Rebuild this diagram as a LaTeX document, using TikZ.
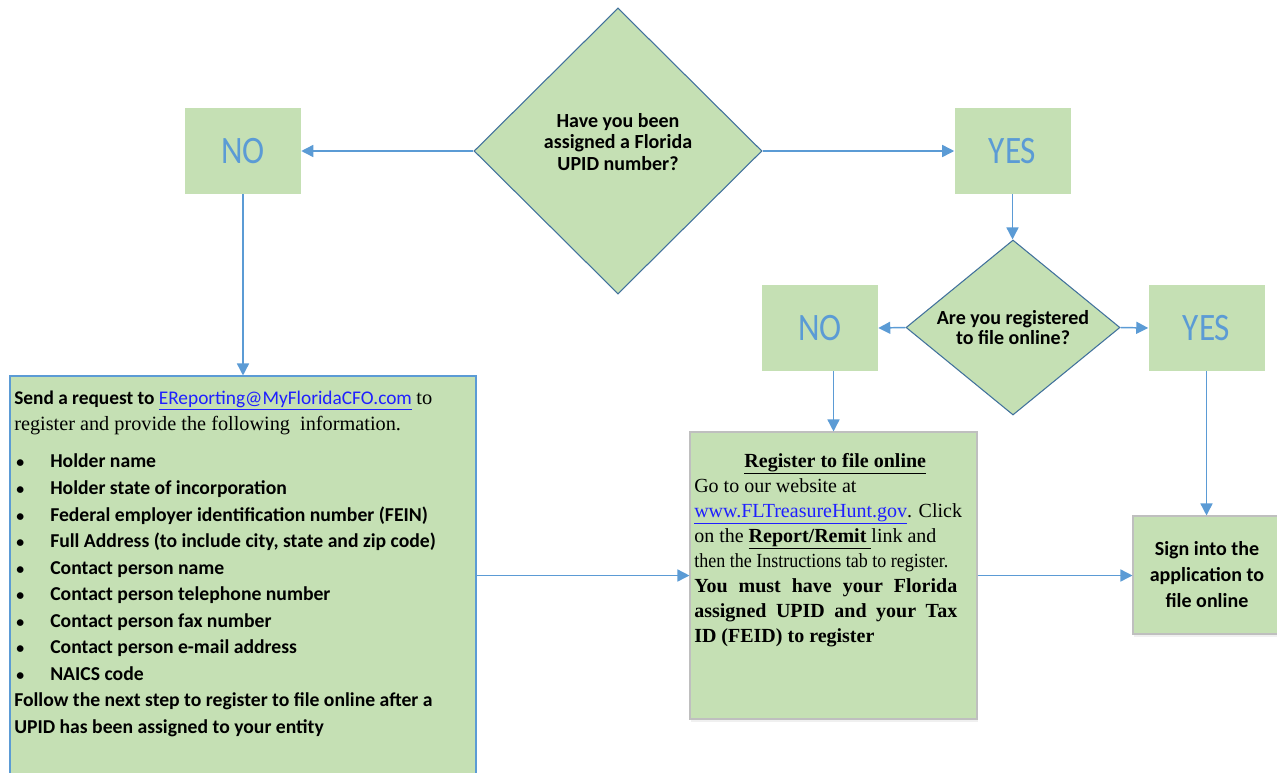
\documentclass[tikz,border=0pt]{standalone}
\usepackage{fontspec}
\setmainfont{Carlito}
\newfontfamily\timesfont{Liberation Serif}
\usepackage{graphicx}
\usetikzlibrary{arrows.meta,shapes.geometric,shadows}
\setlength{\parindent}{0pt}

\definecolor{boxgreen}{HTML}{C5E0B4}
\definecolor{flowblue}{HTML}{5B9BD5}
\definecolor{diaedge}{HTML}{41719C}
\definecolor{linkblue}{HTML}{1F1FFF}
\definecolor{panelgray}{HTML}{BFBFBF}

\tikzset{
  answer/.style={fill=boxgreen, minimum width=87pt, minimum height=64.5pt, inner sep=0pt,
    text=flowblue, font=\fontsize{26}{30}\selectfont},
  question/.style={diamond, draw=diaedge, line width=0.8pt, fill=boxgreen, inner sep=0pt,
    align=center, font=\bfseries\fontsize{15}{16}\selectfont},
  panel/.style={draw=panelgray, fill=boxgreen, line width=0.8pt, inner sep=0pt,
    drop shadow={opacity=0.12, shadow xshift=1pt, shadow yshift=-2pt}},
  flow/.style={draw=flowblue, line width=1.1pt, -{Triangle[length=9pt,width=9pt]}},
}

\newcommand\tallword[1]{\scalebox{0.96}[1.12]{#1}}
\newcommand\bitem[1]{\makebox[27pt][l]{\hspace{1.5pt}\scalebox{0.8}{\textbullet}}#1}
\newcommand\squeeze[2]{\resizebox{#1}{\height}{#2}}
\newcommand\fullline[1]{\makebox[197.25pt][s]{#1}}

\begin{document}
\begin{tikzpicture}[x=0.75pt,y=0.75pt,yscale=-1,xscale=1]
\useasboundingbox (0,0) rectangle (1277,772);

% Questions
\node[question, minimum width=216pt, minimum height=214.5pt, text depth=14pt] (upid) at (618,151) {Have you been\\assigned a Florida\\ UPID number?};
\node[question, aspect=1.22, minimum width=160.5pt, minimum height=131.25pt, font=\bfseries\fontsize{15}{15.5}\selectfont] (online) at (1013,327.5) {Are you registered\\to file online?};

% Answers
\node[answer] (no-upid) at (243,151) {\tallword{NO}};
\node[answer] (yes-upid) at (1012.5,151) {\tallword{YES}};
\node[answer] (no-online) at (820,328) {\tallword{NO}};
\node[answer] (yes-online) at (1206.5,328) {\tallword{YES}};

% Request box
\node[draw=flowblue, fill=boxgreen, line width=0.8pt, minimum width=349.5pt, minimum height=303pt, inner sep=0pt] (request) at (243,578) {};
\node[anchor=north west, inner sep=0pt, align=left, font=\bfseries\fontsize{14.75}{19.9}\selectfont] (request-txt) at (14,390.5) {{\fontsize{14.5}{19.9}\selectfont Send a request to \textcolor{linkblue}{\mdseries\underline{EReporting@MyFloridaCFO.com}}} {\timesfont\mdseries\fontsize{15.3}{19.9}\selectfont to}\\
{\timesfont\mdseries\fontsize{15.2}{19.9}\selectfont register and provide the following \ information.}\\[7.9pt]
\bitem{Holder name}\\
\bitem{Holder state of incorporation}\\
\bitem{Federal employer identification number (FEIN)}\\
\bitem{Full Address (to include city, state and zip code)}\\
\bitem{Contact person name}\\
\bitem{Contact person telephone number}\\
\bitem{Contact person fax number}\\
\bitem{Contact person e-mail address}\\
\bitem{NAICS code}\\
Follow the next step to register to file online after a\\
UPID has been assigned to your entity};

% Register box
\node[panel, minimum width=215.25pt, minimum height=215.25pt] (register) at (833.5,575.5) {};
\node[anchor=north west, inner sep=0pt, align=left, font=\timesfont\fontsize{15}{18.75}\selectfont] (register-txt) at (694,453) {\makebox[211.5pt]{\bfseries\underline{Register to file online}}\\
Go to our website at\\
\textcolor{linkblue}{\underline{www.FLTreasureHunt.gov}}. Click\\
on the \textbf{\underline{Report/Remit }}link and\\
\squeeze{190.5pt}{then the Instructions tab to register.}\\
\fullline{\bfseries You must have your Florida}\\
\fullline{\bfseries assigned UPID and your Tax}\\
\textbf{ID (FEID) to register}};

% Sign-in box
\node[panel, minimum width=111pt, minimum height=88.5pt, align=center, font=\bfseries\fontsize{15}{19.5}\selectfont] (signin) at (1207,575) {Sign into the\\application to\\file online};

% Connectors
\draw[flow] (upid.west) -- (no-upid.east);
\draw[flow] (upid.east) -- (yes-upid.west);
\draw[flow] (yes-upid.south) -- (yes-upid.south |- online.north);
\draw[flow] (online.west) -- (no-online.east);
\draw[flow] (online.east) -- (yes-online.west);
\draw[flow] (no-upid.south) -- (no-upid.south |- request.north);
\draw[flow] (register.north |- no-online.south) -- (register.north);
\draw[flow] (yes-online.south) -- (yes-online.south |- signin.north);
\draw[flow] (request.east |- register.west) -- (register.west);
\draw[flow] (register.east) -- (register.east -| signin.west);

\end{tikzpicture}
\end{document}
